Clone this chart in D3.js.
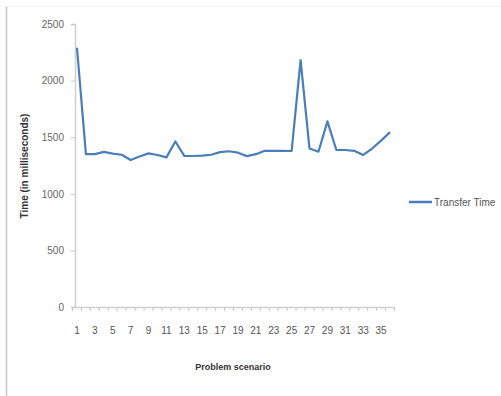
<!DOCTYPE html>
<html><head><meta charset="utf-8">
<script src="https://cdn.jsdelivr.net/npm/d3@7"></script>
<style>html,body{margin:0;padding:0;background:#fff;} svg{display:block;}</style>
</head><body>
<svg id="chart" width="501" height="396"></svg>
<script>
const scenarios = d3.range(1, 37);
const transferTime = [2290, 1350, 1350, 1370, 1355, 1345, 1298, 1330, 1357, 1343, 1322, 1462,
  1335, 1334, 1337, 1345, 1368, 1376, 1363, 1333, 1350, 1380, 1380, 1380, 1378, 2180,
  1400, 1372, 1640, 1387, 1387, 1380, 1343, 1400, 1470, 1545];
const yTicks = [0, 500, 1000, 1500, 2000, 2500];
const xTickLabels = scenarios.filter(d => d % 2 === 1);
const seriesName = "Transfer Time";
const xTitle = "Problem scenario";
const yTitle = "Time (in milliseconds)";

const svg = d3.select("#chart");
const font = "'Liberation Sans Narrow', 'Liberation Sans', Arial, sans-serif";

// outer borders
svg.append("line").attr("x1", 6.5).attr("x2", 6.5).attr("y1", 6).attr("y2", 396).attr("stroke", "#c8c8c8").attr("stroke-width", 1.5);
svg.append("line").attr("x1", 6).attr("x2", 501).attr("y1", 6.5).attr("y2", 6.5).attr("stroke", "#f2f2f2").attr("stroke-width", 1);

const x = d3.scaleBand().domain(scenarios).range([72.5, 394.5]);
const y = d3.scaleLinear().domain([0, 2500]).range([307, 24]);

// y axis
const yAxis = svg.append("g").attr("transform", "translate(75,0)")
  .call(d3.axisLeft(y).tickValues(yTicks).tickFormat(d3.format("d")).tickSize(4).tickPadding(7));
yAxis.select(".domain").attr("stroke", "#d0d0d0").attr("stroke-width", 1.5);
yAxis.selectAll(".tick line").attr("stroke", "#c8c8c8");
yAxis.selectAll(".tick text").attr("fill", "#666").attr("font-size", 10).attr("font-family", font);

// x axis
const xAxis = svg.append("g").attr("transform", "translate(0,307)")
  .call(d3.axisBottom(x).tickValues(xTickLabels).tickSize(0).tickPadding(20));
xAxis.select(".domain").attr("stroke", "#d0d0d0").attr("stroke-width", 1.5);
xAxis.selectAll(".tick text").attr("fill", "#555").attr("font-size", 10).attr("font-family", font);
// boundary tick marks
const bounds = scenarios.map(d => x(d)).concat([x.range()[1]]);
svg.append("g").selectAll("line").data(bounds).join("line")
  .attr("x1", d => d).attr("x2", d => d).attr("y1", 307).attr("y2", 311)
  .attr("stroke", "#c8c8c8");

// line
const line = d3.line()
  .x((d, i) => x(scenarios[i]) + x.bandwidth() / 2)
  .y(d => y(d));
svg.append("path").datum(transferTime)
  .attr("d", line).attr("fill", "none").attr("stroke", "#4a7ebb")
  .attr("stroke-width", 2.2).attr("stroke-linejoin", "round");

// titles
svg.append("text").attr("transform", "translate(28,166) rotate(-90)")
  .attr("text-anchor", "middle").attr("font-size", 10).attr("font-weight", "bold")
  .attr("font-family", font).attr("fill", "#333").text(yTitle);
svg.append("text").attr("x", 233).attr("y", 370)
  .attr("text-anchor", "middle").attr("font-size", 9).attr("font-weight", "bold")
  .attr("font-family", font).attr("fill", "#333").text(xTitle);

// legend
svg.append("line").attr("x1", 409).attr("x2", 432).attr("y1", 202).attr("y2", 202)
  .attr("stroke", "#4a7ebb").attr("stroke-width", 2.5);
svg.append("text").attr("x", 434).attr("y", 205.5).attr("font-size", 10)
  .attr("font-family", font).attr("fill", "#555").text(seriesName);
</script>
</body></html>
